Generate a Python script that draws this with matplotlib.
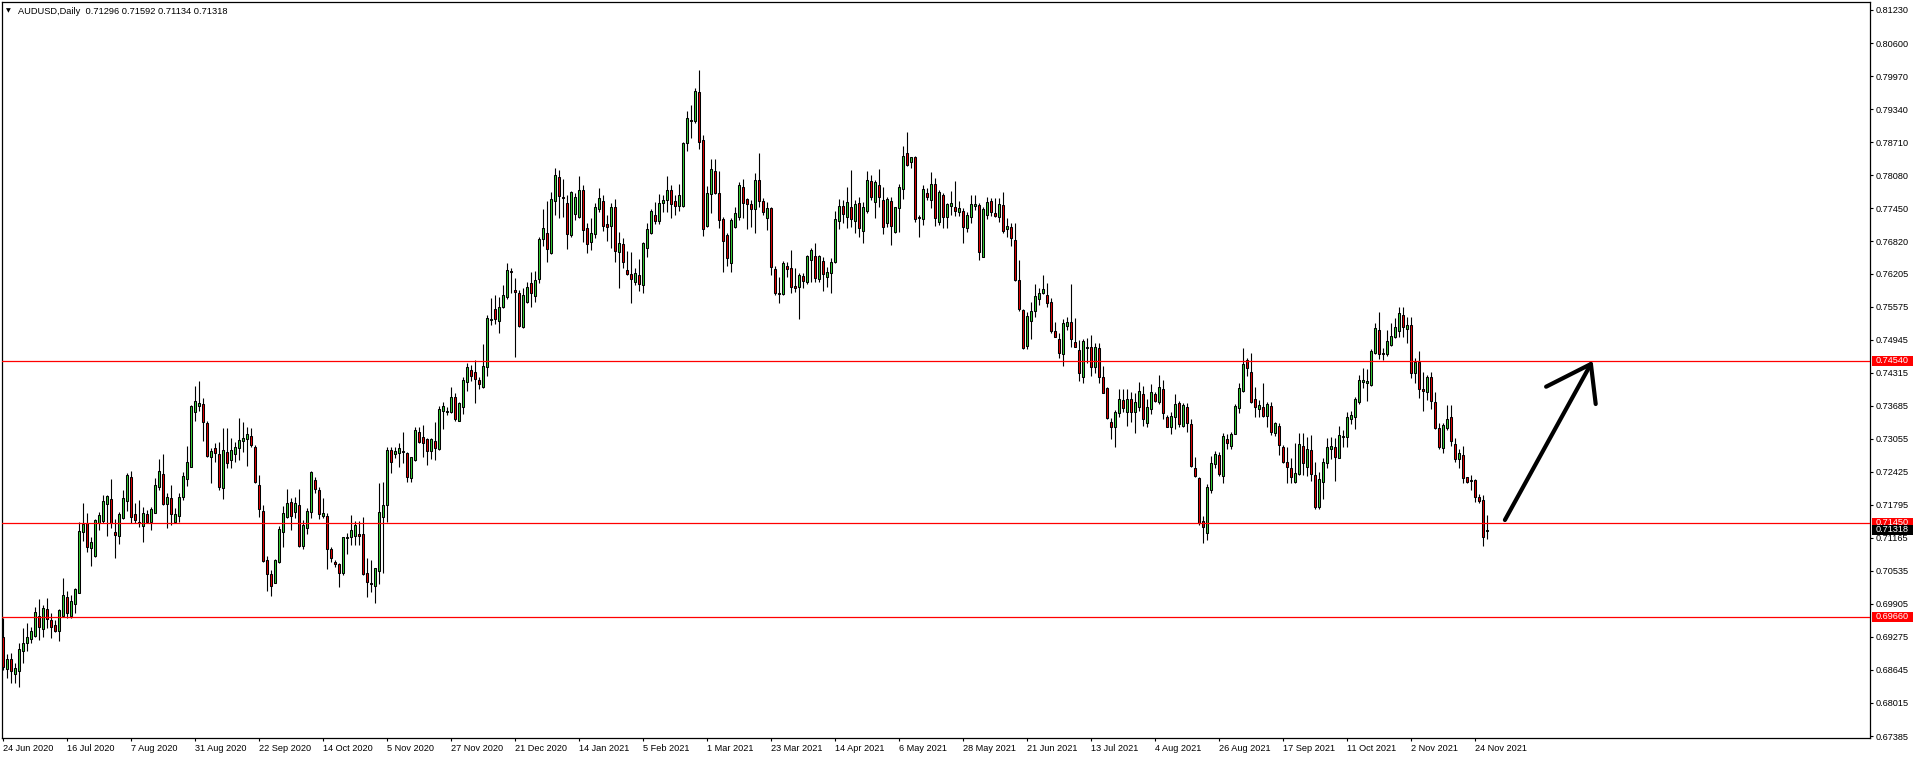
import matplotlib
matplotlib.use('Agg')
import matplotlib.pyplot as plt
import matplotlib.transforms as mtransforms
from matplotlib.patches import Rectangle

plt.rcParams['font.family'] = ['Liberation Sans', 'DejaVu Sans']

# ---------------- data (AUDUSD daily) ----------------
opens = [
0.69277,0.68654,0.68844,0.68577,0.68628,0.69010,0.69150,0.69226,0.69296,0.69665,
0.69417,0.69798,0.69595,0.69493,0.69391,0.69677,0.70027,0.69671,0.69900,0.70104,
0.71267,0.71439,0.70975,0.70822,0.71439,0.71490,0.71802,0.71897,0.71267,0.71204,
0.71535,0.71872,0.72330,0.71611,0.71471,0.71395,0.71611,0.71471,0.71630,0.72139,
0.72374,0.71808,0.71916,0.71471,0.71585,0.71948,0.72291,0.72520,0.73557,0.73678,
0.73710,0.73360,0.72711,0.72870,0.72762,0.72107,0.72807,0.72648,0.72762,0.72870,
0.73016,0.73042,0.73106,0.72889,
0.72172,0.71676,0.70741,0.70474,0.70309,0.70710,0.71282,0.71555,0.71841,0.71650,
0.71790,0.71015,0.71358,0.71663,0.72267,0.72076,0.71587,0.71580,0.70951,0.70697,
0.70665,0.70487,0.71155,0.71186,0.71199,0.71237,0.71237,0.70487,0.70309,0.70245,
0.70538,0.71568,0.71790,0.72839,0.72756,0.72775,0.72820,0.72775,0.72298,0.72648,
0.73176,0.73081,0.73042,0.72826,0.73017,0.72858,0.73589,0.73564,0.73557,0.73843,
0.73398,0.73666,0.74142,0.74365,0.74320,0.74174,0.74034,0.74416,0.75318,0.75522,
0.75306,0.75560,0.75751,0.76253,0.75890,
0.75827,0.75191,0.75668,0.76017,0.75776,0.76100,0.76857,0.76971,0.76590,0.77588,
0.78052,0.77657,0.77543,0.76939,0.77333,0.77276,0.77797,0.77066,0.76799,0.76952,
0.77435,0.77588,0.77143,0.77117,0.77467,0.76609,0.76767,0.76272,0.76195,0.76049,
0.76176,0.75986,0.76685,0.76971,0.77321,0.77212,0.77556,0.77607,0.77797,0.77594,
0.77498,0.77498,0.78700,0.79132,0.79113,0.79660,0.78751,0.77117,0.77715,0.78160,
0.77734,0.77244,0.76939,0.76399,0.77085,0.77289,0.77861,0.77619,0.77524,0.77429,
0.77988,0.77588,0.77257,0.77448,
0.76291,0.75833,0.75808,0.76348,0.76303,0.75966,0.75941,0.76157,0.76036,0.76462,
0.76539,0.76094,0.76443,0.76132,0.76208,0.76418,0.77206,0.77499,0.77276,0.77480,
0.77212,0.77543,0.77022,0.77403,0.77969,0.77575,0.77893,0.77607,0.77162,0.77594,
0.76990,0.77448,0.77810,0.78497,0.78325,0.78421,0.77276,0.77238,0.77734,0.77607,
0.77912,0.77194,0.77702,0.77276,0.77499,0.77480,0.77371,0.77397,0.77066,0.77289,
0.77499,0.77511,0.76513,0.77320,0.77588,0.77352,0.77289,0.77511,0.77047,0.77098,
0.76844,0.76081,0.75509,0.74822,
0.75305,0.75496,0.75712,0.75827,0.75795,0.75655,0.75108,0.74956,0.74663,0.75210,
0.75274,0.74892,0.74746,0.74225,0.74778,0.74797,0.74428,0.74778,0.74225,0.74015,
0.73367,0.73284,0.73538,0.73792,0.73570,0.73805,0.73570,0.73665,0.73901,0.73348,
0.73615,0.73901,0.73760,0.73996,0.73462,0.73284,0.73462,0.73729,0.73303,0.73665,
0.73335,0.72489,0.72299,0.71485,0.71250,0.72076,0.72566,0.72744,0.72350,0.73042,
0.72922,0.73144,0.73634,0.73971,0.74555,0.74333,0.73805,0.73615,0.73653,0.73494,
0.73684,0.73157,0.73297,0.72903,
0.72617,0.72490,0.72235,0.72375,0.72915,0.72521,0.72839,0.72362,0.71758,0.72235,
0.72598,0.72852,0.72890,0.72693,0.73081,0.73081,0.73424,0.73462,0.73761,0.74129,
0.74111,0.74079,0.74695,0.75128,0.74695,0.74670,0.74842,0.75000,0.75115,0.75414,
0.75140,0.75223,0.74301,0.74524,0.74002,0.73952,0.74225,0.73761,0.73252,0.72871,
0.73252,0.73462,0.72947,0.72661,0.72744,0.72318,0.72267,0.72267,0.71936,0.71886,
0.71296]

highs = [
0.69627,0.68946,0.68959,0.68768,0.69150,0.69436,0.69531,0.69468,0.69849,0.69989,
0.69881,0.70008,0.69722,0.69595,0.69798,0.70390,0.70154,0.70072,0.70199,0.71471,
0.71821,0.71630,0.71185,0.71516,0.71662,0.71980,0.71980,0.72279,0.71516,0.71662,
0.72075,0.72406,0.72444,0.71821,0.71884,0.71757,0.71694,0.71757,0.72298,0.72667,
0.72762,0.72012,0.72171,0.71725,0.72012,0.72425,0.72921,0.73697,0.74060,0.74155,
0.73824,0.73392,0.72870,0.72966,0.72997,0.73252,0.73252,0.73061,0.72997,0.73443,
0.73379,0.73284,0.73252,0.72934,
0.72362,0.71790,0.70818,0.70551,0.70754,0.71390,0.71771,0.72095,0.71917,0.71936,
0.72095,0.71504,0.71727,0.72445,0.72330,0.72140,0.71917,0.71631,0.70996,0.70741,
0.70678,0.71186,0.71250,0.71599,0.71491,0.71491,0.71568,0.70773,0.70741,0.70582,
0.72203,0.72235,0.72902,0.72902,0.72902,0.72966,0.73189,0.72800,0.72712,0.73284,
0.73284,0.73316,0.73062,0.73062,0.73379,0.73678,0.73761,0.73666,0.74047,0.73920,
0.73761,0.74237,0.74492,0.74460,0.74556,0.74225,0.74861,0.75414,0.75731,0.75795,
0.75763,0.75986,0.76399,0.76304,0.76113,
0.75890,0.75922,0.76049,0.76240,0.76253,0.76907,0.77435,0.77594,0.77766,0.78210,
0.78179,0.78007,0.77702,0.77778,0.77734,0.78071,0.77893,0.77162,0.77257,0.77543,
0.77829,0.77702,0.77321,0.77543,0.77626,0.77003,0.76876,0.76634,0.76621,0.76303,
0.76481,0.76799,0.77162,0.77429,0.77575,0.77715,0.77702,0.78071,0.77893,0.77702,
0.77912,0.78707,0.79304,0.79418,0.79749,0.80086,0.78846,0.77874,0.78389,0.78389,
0.78160,0.77289,0.76971,0.77257,0.77467,0.77944,0.78007,0.77638,0.77607,0.78115,
0.78497,0.77651,0.77575,0.77479,
0.76348,0.76145,0.76443,0.76431,0.76653,0.76303,0.76208,0.76208,0.76558,0.76698,
0.76780,0.76558,0.76526,0.76335,0.76494,0.77403,0.77619,0.77607,0.77848,0.78179,
0.77607,0.77657,0.77575,0.78160,0.78083,0.77988,0.78191,0.77861,0.77657,0.77657,
0.77480,0.77912,0.78636,0.78910,0.78433,0.78446,0.77320,0.77893,0.77829,0.78147,
0.78020,0.77797,0.77734,0.77543,0.77778,0.77969,0.77588,0.77448,0.77384,0.77702,
0.77702,0.77543,0.77467,0.77657,0.77651,0.77651,0.77651,0.77766,0.77257,0.77162,
0.77162,0.76462,0.75522,0.75477,
0.75668,0.76005,0.75922,0.76176,0.76017,0.75731,0.75286,0.75064,0.75331,0.75382,
0.76005,0.75350,0.74937,0.74950,0.74969,0.75032,0.74873,0.74873,0.74441,0.74047,
0.73443,0.73602,0.73996,0.73996,0.73996,0.73951,0.73920,0.74142,0.74060,0.73805,
0.74098,0.73951,0.74269,0.74174,0.73507,0.73570,0.73901,0.73780,0.73742,0.73742,
0.73424,0.72699,0.72318,0.71580,0.72184,0.72725,0.72826,0.72795,0.73170,0.73144,
0.73189,0.73716,0.74123,0.74778,0.74587,0.74683,0.74047,0.73792,0.74110,0.73761,
0.73761,0.73379,0.73348,0.72934,
0.72903,0.72680,0.72966,0.73157,0.73170,0.73093,0.73125,0.72617,0.72426,0.72680,
0.73062,0.73093,0.73062,0.73297,0.73220,0.73570,0.73589,0.73843,0.74269,0.74397,
0.74378,0.74759,0.75255,0.75477,0.74778,0.75128,0.75255,0.75350,0.75560,0.75560,
0.75382,0.75369,0.74587,0.74727,0.74333,0.74269,0.74333,0.73952,0.73360,0.73348,
0.73697,0.73697,0.73062,0.72852,0.72915,0.72331,0.72362,0.72280,0.71999,0.71981,
0.71592]

lows = [
0.68641,0.68482,0.68399,0.68399,0.68323,0.68768,0.69010,0.69150,0.69277,0.69213,
0.69277,0.69436,0.69245,0.69372,0.69200,0.69646,0.69627,0.69627,0.69722,0.70104,
0.71108,0.70899,0.70625,0.70803,0.71312,0.71439,0.71204,0.71344,0.70771,0.71045,
0.71522,0.71681,0.71452,0.71452,0.71376,0.71089,0.71439,0.71312,0.71630,0.72075,
0.71789,0.71357,0.71407,0.71439,0.71471,0.71884,0.72152,0.72520,0.73398,0.73589,
0.73016,0.72711,0.72215,0.72616,0.72075,0.71910,0.72489,0.72489,0.72616,0.72648,
0.72807,0.72533,0.72902,0.72202,
0.71568,0.70710,0.70156,0.70061,0.70296,0.70678,0.70996,0.71536,0.71313,0.71536,
0.70996,0.70951,0.71231,0.71536,0.72025,0.71517,0.71536,0.70563,0.70710,0.70614,
0.70220,0.70455,0.70856,0.71027,0.71027,0.71027,0.70455,0.70042,0.70137,0.69915,
0.70283,0.70487,0.71472,0.72394,0.72680,0.72521,0.72585,0.72235,0.72235,0.72636,
0.72966,0.72712,0.72553,0.72661,0.72648,0.72839,0.73233,0.73507,0.73538,0.73398,
0.73398,0.73519,0.73971,0.74161,0.73729,0.73996,0.74015,0.74257,0.75223,0.75242,
0.75077,0.75541,0.75719,0.75827,0.74619,
0.75191,0.75172,0.75636,0.75572,0.75668,0.76017,0.76736,0.76431,0.76577,0.77321,
0.77257,0.77289,0.76666,0.76907,0.77225,0.77257,0.76812,0.76590,0.76653,0.76888,
0.77384,0.77015,0.76825,0.76685,0.76431,0.75922,0.76303,0.76176,0.75636,0.75986,
0.75871,0.75827,0.76513,0.76958,0.77143,0.77143,0.77371,0.77384,0.77257,0.77321,
0.77397,0.77479,0.78541,0.78795,0.79069,0.78579,0.76920,0.77098,0.77365,0.77715,
0.77079,0.76227,0.76354,0.76227,0.77066,0.77225,0.77270,0.77054,0.77085,0.76971,
0.77479,0.77321,0.77035,0.76176,
0.75795,0.75636,0.75795,0.76145,0.75839,0.75858,0.75331,0.75922,0.76005,0.76049,
0.76049,0.76049,0.75877,0.75954,0.75839,0.76399,0.77054,0.77162,0.77066,0.77098,
0.76984,0.76907,0.76793,0.77365,0.77607,0.77257,0.77480,0.76958,0.77098,0.76748,
0.76984,0.77003,0.77619,0.78255,0.78211,0.77194,0.76895,0.77130,0.77607,0.77448,
0.77111,0.77130,0.77066,0.77066,0.77320,0.77302,0.77302,0.76780,0.76990,0.77162,
0.77416,0.76462,0.76513,0.77244,0.77302,0.77289,0.77194,0.76984,0.76907,0.76730,
0.76068,0.75490,0.74759,0.74759,
0.74950,0.75382,0.75604,0.75808,0.75573,0.75077,0.74988,0.74600,0.74441,0.75127,
0.74810,0.74797,0.74161,0.74110,0.74492,0.74250,0.74301,0.74110,0.73920,0.73424,
0.73049,0.72903,0.73462,0.73570,0.73303,0.73367,0.73170,0.73589,0.73303,0.73284,
0.73526,0.73760,0.73716,0.73424,0.73271,0.73144,0.73233,0.73284,0.73284,0.73189,
0.72521,0.72331,0.71409,0.71059,0.71123,0.72013,0.72489,0.72343,0.72216,0.72852,
0.72852,0.73144,0.73538,0.73939,0.74250,0.73742,0.73462,0.73462,0.73475,0.73284,
0.73125,0.73106,0.72744,0.72598,
0.72203,0.72216,0.72216,0.72362,0.72362,0.72350,0.72248,0.71707,0.71707,0.71898,
0.72490,0.72661,0.72248,0.72680,0.72890,0.72903,0.73329,0.73233,0.73716,0.74015,
0.73780,0.74060,0.74670,0.74575,0.74555,0.74632,0.74823,0.74969,0.75000,0.75000,
0.74873,0.74206,0.74123,0.73824,0.73589,0.73793,0.73615,0.73233,0.72852,0.72775,
0.73220,0.72915,0.72617,0.72490,0.72216,0.72216,0.72076,0.71854,0.71822,0.71008,
0.71134]

closes = [
0.68704,0.68863,0.68628,0.68673,0.69035,0.69150,0.69264,0.69379,0.69741,0.69455,
0.69817,0.69620,0.69468,0.69391,0.69786,0.70065,0.69722,0.69957,0.70180,0.71293,
0.71420,0.70994,0.71077,0.71496,0.71592,0.71872,0.71961,0.71439,0.71223,0.71611,
0.71916,0.72355,0.71566,0.71503,0.71439,0.71630,0.71471,0.71706,0.72164,0.72438,
0.71802,0.71935,0.71611,0.71611,0.71935,0.72342,0.72603,0.73678,0.73767,0.73729,
0.73379,0.72730,0.72819,0.72775,0.72139,0.72838,0.72584,0.72838,0.72902,0.73029,
0.73067,0.73137,0.72934,0.72234,
0.71707,0.70729,0.70468,0.70252,0.70741,0.71332,0.71631,0.71822,0.71587,0.71822,
0.71002,0.71402,0.71676,0.72426,0.72089,0.71612,0.71631,0.70945,0.70773,0.70659,
0.70487,0.71174,0.71186,0.71313,0.71402,0.71205,0.70474,0.70315,0.70277,0.70582,
0.71650,0.71790,0.72839,0.72617,0.72820,0.72871,0.72795,0.72330,0.72699,0.73220,
0.72998,0.72979,0.72826,0.73042,0.72871,0.73615,0.73678,0.73589,0.73843,0.73430,
0.73729,0.74174,0.74416,0.74257,0.74187,0.74091,0.74441,0.75350,0.75337,0.75331,
0.75573,0.75795,0.76272,0.76227,0.75859,
0.75210,0.75795,0.75941,0.75827,0.76074,0.76863,0.77066,0.76666,0.77619,0.78083,
0.77683,0.77638,0.76952,0.77753,0.77658,0.77797,0.77035,0.76761,0.76971,0.77467,
0.77651,0.77117,0.77098,0.77467,0.76640,0.76780,0.76418,0.76195,0.76094,0.76208,
0.75998,0.76780,0.77053,0.77397,0.77212,0.77543,0.77607,0.77797,0.77524,0.77498,
0.77702,0.78687,0.79164,0.79113,0.79685,0.78719,0.77047,0.77734,0.78191,0.77734,
0.77225,0.76825,0.76494,0.77225,0.77352,0.77893,0.77556,0.77530,0.77429,0.77988,
0.77588,0.77371,0.77448,0.76323,
0.75839,0.75808,0.76399,0.76297,0.75954,0.75922,0.76176,0.76068,0.76539,0.76647,
0.76125,0.76539,0.76189,0.76240,0.76431,0.77238,0.77499,0.77333,0.77575,0.77244,
0.77524,0.77066,0.77467,0.77988,0.77657,0.77944,0.77657,0.77098,0.77619,0.77111,
0.77467,0.77848,0.78446,0.78274,0.78421,0.77238,0.77257,0.77810,0.77670,0.77912,
0.77257,0.77765,0.77276,0.77530,0.77543,0.77403,0.77448,0.77085,0.77320,0.77524,
0.77524,0.76609,0.77435,0.77562,0.77371,0.77302,0.77524,0.77022,0.77111,0.76876,
0.76081,0.75522,0.74790,0.75394,
0.75496,0.75776,0.75827,0.75903,0.75649,0.75108,0.75000,0.74695,0.75255,0.75274,
0.74950,0.74810,0.74314,0.74918,0.74810,0.74428,0.74810,0.74225,0.73932,0.73443,
0.73271,0.73570,0.73805,0.73634,0.73805,0.73570,0.73748,0.73964,0.73424,0.73665,
0.73939,0.73780,0.74034,0.73551,0.73284,0.73487,0.73710,0.73335,0.73697,0.73360,
0.72540,0.72343,0.71453,0.71364,0.72127,0.72585,0.72763,0.72381,0.73106,0.72966,
0.73144,0.73678,0.74015,0.74473,0.74396,0.73761,0.73653,0.73697,0.73494,0.73710,
0.73189,0.73348,0.72928,0.72617,
0.72509,0.72318,0.72394,0.72947,0.72585,0.72852,0.72381,0.71758,0.72280,0.72604,
0.72890,0.72915,0.72712,0.73125,0.73106,0.73462,0.73507,0.73812,0.74174,0.74174,
0.74155,0.74727,0.75159,0.74664,0.74664,0.74924,0.75013,0.75178,0.75445,0.75191,
0.75223,0.74314,0.74524,0.73996,0.73971,0.74225,0.73780,0.73252,0.72903,0.73316,
0.73424,0.73017,0.72661,0.72775,0.72299,0.72235,0.72248,0.71936,0.71873,0.71186,
0.71318]

date_labels = ["24 Jun 2020", "16 Jul 2020", "7 Aug 2020", "31 Aug 2020", "22 Sep 2020",
               "14 Oct 2020", "5 Nov 2020", "27 Nov 2020", "21 Dec 2020", "14 Jan 2021",
               "5 Feb 2021", "1 Mar 2021", "23 Mar 2021", "14 Apr 2021", "6 May 2021",
               "28 May 2021", "21 Jun 2021", "13 Jul 2021", "4 Aug 2021", "26 Aug 2021",
               "17 Sep 2021", "11 Oct 2021", "2 Nov 2021", "24 Nov 2021"]
bars_per_label = 16

price_ticks = [0.81230, 0.80600, 0.79970, 0.79340, 0.78710, 0.78080, 0.77450, 0.76820,
               0.76205, 0.75575, 0.74945, 0.74315, 0.73685, 0.73055, 0.72425, 0.71795,
               0.71165, 0.70535, 0.69905, 0.69275, 0.68645, 0.68015, 0.67385]

levels = [0.74540, 0.71450, 0.69660]
symbol_title = "AUDUSD,Daily"

# hand-drawn arrow (bar index, price)
arrow_start = (375.4, 0.71504)
arrow_tip = (396.9, 0.74479)
arrow_head_left = (385.7, 0.74046)
arrow_head_right = (398.1, 0.73716)

# ---------------- figure ----------------
W, H = 1916, 759
fig = plt.figure(figsize=(W / 100, H / 100), dpi=100)
fig.patch.set_facecolor('white')
ax = fig.add_axes([2 / W, 21 / H, 1868 / W, 736 / H])
ax.set_facecolor('white')

px_per_bar = 4.0
ax.set_xlim(-0.325, -0.325 + 1868 / px_per_bar)
price_per_px = 0.0001907
ymin = 0.67347
ax.set_ylim(ymin, ymin + 736 * price_per_px)

n = min(len(opens), len(highs), len(lows), len(closes))
xs = list(range(n))

bull_col = '#33CC33'
bear_col = '#E00000'

# wicks
ax.vlines(xs, lows[:n], highs[:n], colors='black', linewidth=0.8, zorder=2)
# bodies
bottoms = [min(opens[i], closes[i]) for i in xs]
heights = [max(abs(closes[i] - opens[i]), 0.000001) for i in xs]
colors = [bull_col if closes[i] >= opens[i] else bear_col for i in xs]
ax.bar(xs, heights, width=0.55, bottom=bottoms, color=colors,
       edgecolor='black', linewidth=0.75, zorder=3)

# horizontal levels
for lv in levels:
    ax.axhline(lv, color='#FF0000', linewidth=0.9, zorder=4)

# arrow
lw_arrow = 3.0
ax.plot([arrow_start[0], arrow_tip[0]], [arrow_start[1], arrow_tip[1]], color='black',
        lw=lw_arrow, solid_capstyle='round', zorder=6)
ax.plot([arrow_head_left[0], arrow_tip[0], arrow_head_right[0]],
        [arrow_head_left[1], arrow_tip[1], arrow_head_right[1]], color='black',
        lw=lw_arrow, solid_capstyle='round', solid_joinstyle='round', zorder=6)

# axes styling
for sp in ax.spines.values():
    sp.set_color('black')
    sp.set_linewidth(0.9)

ax.yaxis.tick_right()
ax.set_yticks(price_ticks)
ax.set_yticklabels(['%.5f' % v for v in price_ticks])
ax.tick_params(axis='y', direction='out', length=2.5, width=0.8, pad=1.5,
               labelsize=6.6, colors='black')

tick_pos = [k * bars_per_label for k in range(len(date_labels))]
ax.set_xticks(tick_pos)
ax.set_xticklabels(date_labels)
for lbl in ax.get_xticklabels():
    lbl.set_horizontalalignment('left')
ax.tick_params(axis='x', direction='out', length=2.5, width=0.8, pad=2.0,
               labelsize=6.6, colors='black')

# price labels on the right scale
blend = mtransforms.blended_transform_factory(ax.transAxes, ax.transData)
box_x0 = 1.0011
box_w = 41 / 1868
box_h = 10 * price_per_px
def price_tag(value, face):
    ax.add_patch(Rectangle((box_x0, value - box_h / 2), box_w, box_h, transform=blend,
                           facecolor=face, edgecolor='none', clip_on=False, zorder=7))
    ax.text(1.0031, value, '%.5f' % value, transform=blend, color='white',
            fontsize=6.6, va='center', ha='left', clip_on=False, zorder=8)

for lv in levels:
    price_tag(lv, '#FF0000')
price_tag(closes[n - 1], '#000000')

# header text
fig.text(6 / W, 1 - 11 / H, '\u25BC', fontsize=4.5, family='DejaVu Sans',
         va='center', ha='left', color='black')
header = '%s  %.5f %.5f %.5f %.5f' % (symbol_title, opens[n - 1], highs[n - 1],
                                      lows[n - 1], closes[n - 1])
fig.text(18 / W, 1 - 11 / H, header, fontsize=6.7, va='center', ha='left', color='black')

fig.savefig('out.png', dpi=100, facecolor='white')
